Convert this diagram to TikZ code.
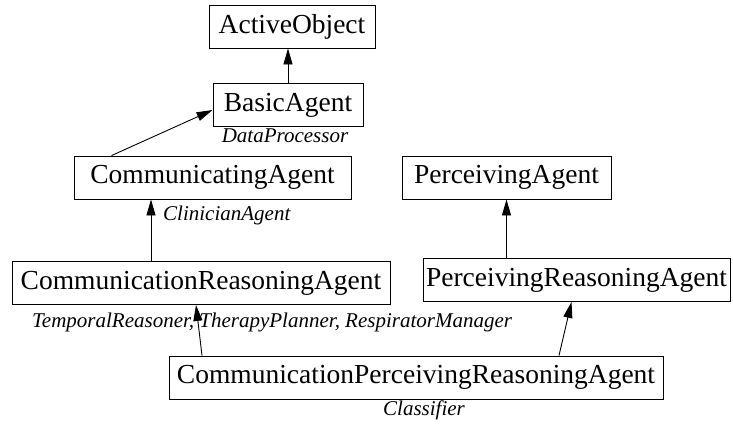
\documentclass[tikz,border=0pt]{standalone}
\usepackage{fontspec}
\setmainfont{Liberation Serif}[ItalicFont={Liberation Serif Italic}]
\usetikzlibrary{arrows.meta}

\begin{document}
\begin{tikzpicture}[x=1pt, y=-1pt,
      cls/.style={draw, line width=0.9pt, minimum height=43pt, inner xsep=2pt,
        font=\fontsize{27.5}{32}\selectfont},
      lbl/.style={inner sep=0pt, font=\fontsize{21}{24}\selectfont\itshape},
      inh/.style={line width=0.9pt, -{Triangle[length=16pt, width=9pt]}}]
    \useasboundingbox (0,0) rectangle (733,423);
    \node[cls, minimum width=166pt] (act)   at (292,26.5)  {ActiveObject};
    \node[cls, minimum width=150pt] (basic) at (288,105)   {BasicAgent};
    \node[cls, minimum width=277pt] (comm)  at (212.5,177.5) {CommunicatingAgent};
    \node[cls, minimum width=209pt] (perc)  at (506.5,177.5) {PerceivingAgent};
    \node[cls, minimum width=378pt] (cra)   at (201,283)   {CommunicationReasoningAgent};
    \node[cls, minimum width=307pt] (pra)   at (576.5,280) {PerceivingReasoningAgent};
    \node[cls, minimum width=494pt] (cpra)  at (416,377.5) {CommunicationPerceivingReasoningAgent};
    \node[lbl] (dp) at (285,136) {DataProcessor};
    \node[lbl, anchor=west] (ca) at (163,215) {ClinicianAgent};
    \node[lbl, anchor=west] (tr) at (32,322) {TemporalReasoner, TherapyPlanner, RespiratorManager};
    \node[lbl] (cl) at (424,410) {Classifier};
    \draw[inh] (basic.north) -- (basic.north |- act.south);
    \draw[inh] ([xshift=38pt]comm.north west) -- ([yshift=-5pt]basic.west);
    \draw[inh] ([xshift=-50pt]cra.north) -- ([xshift=-50pt]cra.north |- comm.south);
    \draw[inh] (pra.north -| perc.south) -- (perc.south);
    \draw[inh] ([xshift=-214pt]cpra.north) -- ([xshift=-5pt]cra.south);
    \draw[inh] ([xshift=143pt]cpra.north) -- ([xshift=-5pt]pra.south);
  \end{tikzpicture}
\end{document}
